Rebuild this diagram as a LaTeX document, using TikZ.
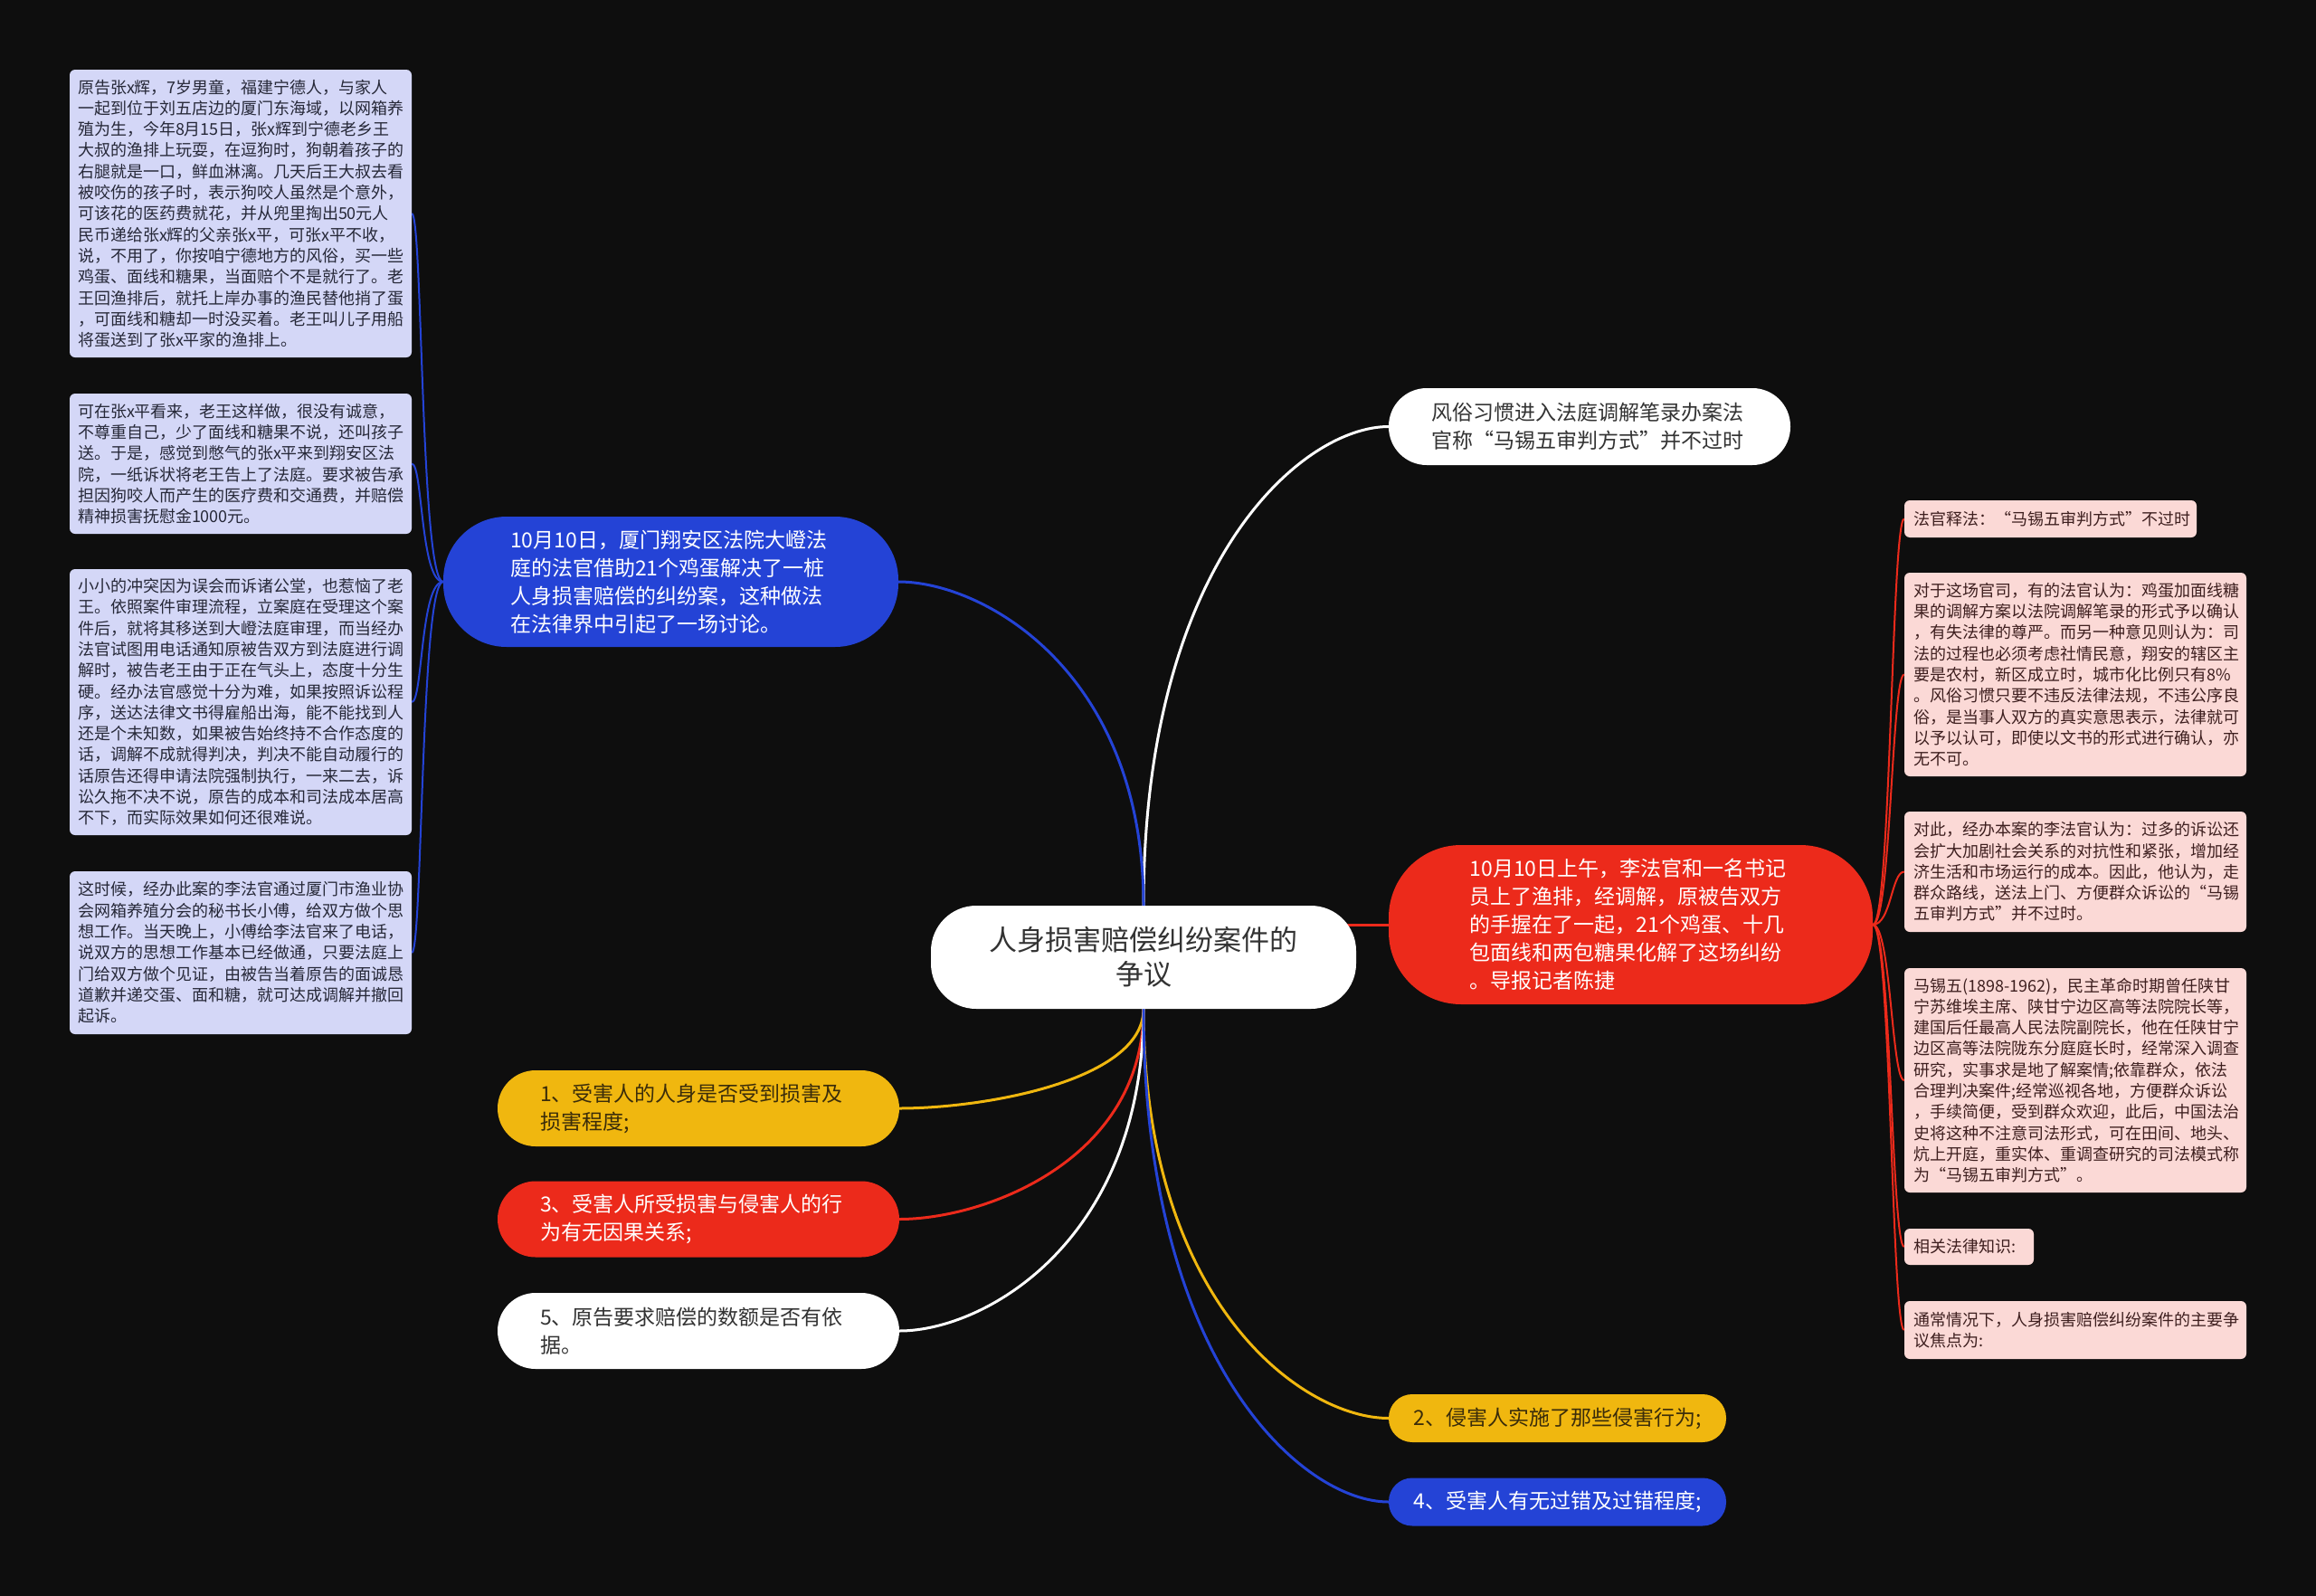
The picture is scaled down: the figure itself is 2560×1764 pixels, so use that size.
\documentclass[tikz,border=0pt]{standalone}
\usepackage{fontspec}
\setmainfont{Noto Sans CJK SC}
\pgfdeclarelayer{back}
\pgfdeclarelayer{bg}
\pgfsetlayers{back,bg,main}
\definecolor{bgc}{HTML}{0E0E0E}
\definecolor{bluec}{HTML}{2443D6}
\definecolor{redc}{HTML}{EC2A1B}
\definecolor{yellowc}{HTML}{F0B70F}
\definecolor{lboxc}{HTML}{D4D7F7}
\definecolor{rboxc}{HTML}{FBD9D6}
\definecolor{ltextc}{HTML}{262838}
\definecolor{rtextc}{HTML}{3E1F1F}
\definecolor{txtdark}{HTML}{333333}
\definecolor{ytext}{HTML}{3A2C0A}
\tikzset{
  pillnode/.style={inner sep=0pt, align=left, font=\fontsize{23}{31}\selectfont},
  lbox/.style={fill=lboxc, rounded corners=6pt, inner sep=0pt, text=ltextc, align=left,
    font=\fontsize{18}{23.3}\selectfont, minimum width=378pt, text width=360pt},
  rbox/.style={fill=rboxc, rounded corners=6pt, inner sep=0pt, text=rtextc, align=left,
    font=\fontsize{18}{23.3}\selectfont},
  mainline/.style={line width=3pt},
  subline/.style={line width=2pt},
}
\begin{document}
\begin{tikzpicture}[x=1pt,y=-1pt]
\begin{pgfonlayer}{back}
\fill[bgc] (0,0) rectangle (2560,1764);
\end{pgfonlayer}
\useasboundingbox (0,0) rectangle (2560,1764);

% central node
\node[pillnode, fill=white, text=txtdark, rounded corners=50pt, minimum width=470pt,
  minimum height=114pt, font=\fontsize{31}{38}\selectfont, align=center] (c) at (1264,1058)
  {人身损害赔偿纠纷案件的\\争议};

% main branches
\node[pillnode, fill=white, text=txtdark, rounded corners=42pt, minimum width=444pt,
  minimum height=85pt, text width=350pt] (tw) at (1757,471.5)
  {风俗习惯进入法庭调解笔录办案法\\官称“马锡五审判方式”并不过时};
\node[pillnode, fill=bluec, text=white, rounded corners=70pt, minimum width=503pt,
  minimum height=144pt, text width=355pt] (bl) at (741.5,643)
  {10月10日，厦门翔安区法院大嶝法\\庭的法官借助21个鸡蛋解决了一桩\\人身损害赔偿的纠纷案，这种做法\\在法律界中引起了一场讨论。};
\node[pillnode, fill=redc, text=white, rounded corners=80pt, minimum width=535pt,
  minimum height=176pt, text width=356pt] (rd) at (1802.5,1022)
  {10月10日上午，李法官和一名书记\\员上了渔排，经调解，原被告双方\\的手握在了一起，21个鸡蛋、十几\\包面线和两包糖果化解了这场纠纷\\。导报记者陈捷};
\node[pillnode, fill=yellowc, text=ytext, rounded corners=42pt, minimum width=444pt,
  minimum height=84pt, text width=350pt] (y1) at (772,1225)
  {1、受害人的人身是否受到损害及\\损害程度;};
\node[pillnode, fill=redc, text=white, rounded corners=42pt, minimum width=444pt,
  minimum height=84pt, text width=350pt] (r3) at (772,1347.5)
  {3、受害人所受损害与侵害人的行\\为有无因果关系;};
\node[pillnode, fill=white, text=txtdark, rounded corners=42pt, minimum width=444pt,
  minimum height=84pt, text width=350pt] (w5) at (772,1471)
  {5、原告要求赔偿的数额是否有依\\据。};
\node[pillnode, fill=yellowc, text=ytext, rounded corners=26pt, minimum width=373pt,
  minimum height=53pt] (y2) at (1721.5,1567.5)
  {2、侵害人实施了那些侵害行为;};
\node[pillnode, fill=bluec, text=white, rounded corners=26pt, minimum width=373pt,
  minimum height=53pt] (b4) at (1721.5,1660)
  {4、受害人有无过错及过错程度;};

% left detail boxes
\node[lbox, minimum height=318pt] (L1) at (266,236)
  {原告张x辉，7岁男童，福建宁德人，与家人\\一起到位于刘五店边的厦门东海域，以网箱养\\殖为生，今年8月15日，张x辉到宁德老乡王\\大叔的渔排上玩耍，在逗狗时，狗朝着孩子的\\右腿就是一口，鲜血淋漓。几天后王大叔去看\\被咬伤的孩子时，表示狗咬人虽然是个意外，\\可该花的医药费就花，并从兜里掏出50元人\\民币递给张x辉的父亲张x平，可张x平不收，\\说，不用了，你按咱宁德地方的风俗，买一些\\鸡蛋、面线和糖果，当面赔个不是就行了。老\\王回渔排后，就托上岸办事的渔民替他捎了蛋\\，可面线和糖却一时没买着。老王叫儿子用船\\将蛋送到了张x平家的渔排上。};
\node[lbox, minimum height=155pt] (L2) at (266,512.5)
  {可在张x平看来，老王这样做，很没有诚意，\\不尊重自己，少了面线和糖果不说，还叫孩子\\送。于是，感觉到憋气的张x平来到翔安区法\\院，一纸诉状将老王告上了法庭。要求被告承\\担因狗咬人而产生的医疗费和交通费，并赔偿\\精神损害抚慰金1000元。};
\node[lbox, minimum height=294pt] (L3) at (266,776)
  {小小的冲突因为误会而诉诸公堂，也惹恼了老\\王。依照案件审理流程，立案庭在受理这个案\\件后，就将其移送到大嶝法庭审理，而当经办\\法官试图用电话通知原被告双方到法庭进行调\\解时，被告老王由于正在气头上，态度十分生\\硬。经办法官感觉十分为难，如果按照诉讼程\\序，送达法律文书得雇船出海，能不能找到人\\还是个未知数，如果被告始终持不合作态度的\\话，调解不成就得判决，判决不能自动履行的\\话原告还得申请法院强制执行，一来二去，诉\\讼久拖不决不说，原告的成本和司法成本居高\\不下，而实际效果如何还很难说。};
\node[lbox, minimum height=180pt] (L4) at (266,1053)
  {这时候，经办此案的李法官通过厦门市渔业协\\会网箱养殖分会的秘书长小傅，给双方做个思\\想工作。当天晚上，小傅给李法官来了电话，\\说双方的思想工作基本已经做通，只要法庭上\\门给双方做个见证，由被告当着原告的面诚恳\\道歉并递交蛋、面和糖，就可达成调解并撤回\\起诉。};

% right detail boxes
\node[rbox, minimum width=323pt, minimum height=41pt, text width=303pt] (R1) at (2266.5,573.5)
  {法官释法：“马锡五审判方式”不过时};
\node[rbox, minimum width=378pt, minimum height=225pt, text width=358pt] (R2) at (2294,745.5)
  {对于这场官司，有的法官认为：鸡蛋加面线糖\\果的调解方案以法院调解笔录的形式予以确认\\，有失法律的尊严。而另一种意见则认为：司\\法的过程也必须考虑社情民意，翔安的辖区主\\要是农村，新区成立时，城市化比例只有8\%\\。风俗习惯只要不违反法律法规，不违公序良\\俗，是当事人双方的真实意思表示，法律就可\\以予以认可，即使以文书的形式进行确认，亦\\无不可。};
\node[rbox, minimum width=378pt, minimum height=133pt, text width=358pt] (R3) at (2294,963.5)
  {对此，经办本案的李法官认为：过多的诉讼还\\会扩大加剧社会关系的对抗性和紧张，增加经\\济生活和市场运行的成本。因此，他认为，走\\群众路线，送法上门、方便群众诉讼的“马锡\\五审判方式”并不过时。};
\node[rbox, minimum width=378pt, minimum height=248pt, text width=358pt] (R4) at (2294,1194)
  {马锡五(1898-1962)，民主革命时期曾任陕甘\\宁苏维埃主席、陕甘宁边区高等法院院长等，\\建国后任最高人民法院副院长，他在任陕甘宁\\边区高等法院陇东分庭庭长时，经常深入调查\\研究，实事求是地了解案情;依靠群众，依法\\合理判决案件;经常巡视各地，方便群众诉讼\\，手续简便，受到群众欢迎，此后，中国法治\\史将这种不注意司法形式，可在田间、地头、\\炕上开庭，重实体、重调查研究的司法模式称\\为“马锡五审判方式”。};
\node[rbox, minimum width=143pt, minimum height=40pt, text width=123pt] (R5) at (2176.5,1378)
  {相关法律知识:};
\node[rbox, minimum width=378pt, minimum height=64pt, text width=358pt] (R6) at (2294,1470)
  {通常情况下，人身损害赔偿纠纷案件的主要争\\议焦点为:};

% connectors
\begin{pgfonlayer}{bg}
\draw[mainline, white] (c.north) .. controls (1264,620) and (1440,471.5) .. (tw.west);
\draw[mainline, bluec] (c.north) .. controls (1264,743) and (1088,643) .. (bl.east);
\draw[mainline, redc] (c.center |- rd.west) -- (rd.west);
\draw[mainline, yellowc] (c.south) .. controls (1264,1194) and (1089,1225) .. (y1.east);
\draw[mainline, redc] (c.south) .. controls (1264,1282) and (1089,1347.5) .. (r3.east);
\draw[mainline, white] (c.south) .. controls (1264,1371) and (1089,1471) .. (w5.east);
\draw[mainline, yellowc] (c.south) .. controls (1264,1441) and (1440,1567.5) .. (y2.west);
\draw[mainline, bluec] (c.south) .. controls (1264,1507) and (1440,1660) .. (b4.west);
\foreach \n in {L1,L2,L3,L4}
  \draw[subline, bluec] (bl.west) .. controls +(-25,0) and +(12,0) .. (\n.east);
\foreach \n in {R1,R2,R3,R4,R5,R6}
  \draw[subline, redc] (rd.east) .. controls +(20,0) and +(-14,0) .. (\n.west);
\end{pgfonlayer}
\end{tikzpicture}
\end{document}
